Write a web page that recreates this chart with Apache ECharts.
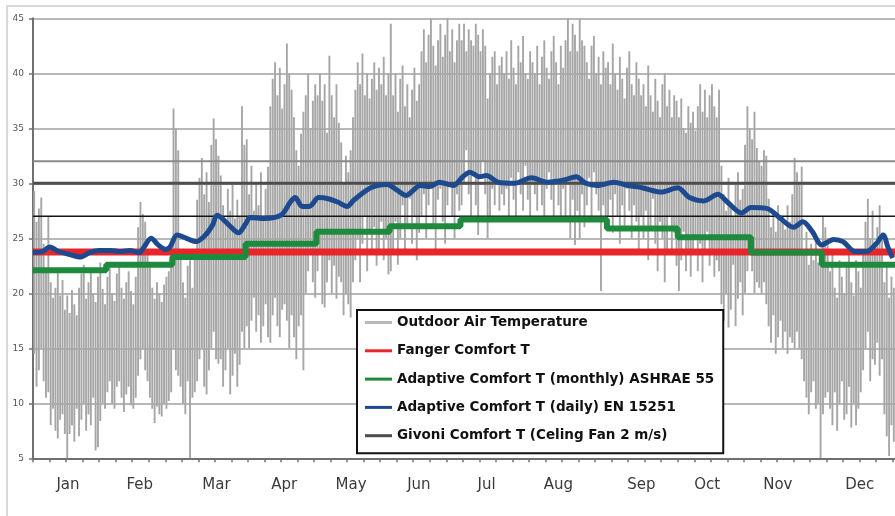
<!DOCTYPE html>
<html>
<head>
<meta charset="utf-8">
<script src="https://cdn.jsdelivr.net/npm/echarts@6/dist/echarts.min.js"></script>
<style>
html,body{margin:0;padding:0;background:#fff;}
#chart{width:895px;height:516px;}
</style>
</head>
<body>
<div id="chart"></div>
<script>
// ---------- DATA ----------
const months = ['Jan','Feb','Mar','Apr','May','Jun','Jul','Aug','Sep','Oct','Nov','Dec'];
const monthLengths = [31,28,31,30,31,30,31,31,30,31,30,31];
const monthLabelDays = [14.8,45.2,77.7,106.4,134.7,163.4,192.1,222.5,257.6,285.5,315.4,350.1];

// Outdoor air temperature: daily max / min (deg C), Jan 1 .. Dec 31
const outdoorHigh = [
 29.3,26.5,27.7,28.7,24.5,22.0,27.0,21.0,19.6,20.5,22.0,19.8,21.2,18.5,19.8,18.2,20.3,19.0,18.0,20.5,21.8,22.6,19.5,21.0,22.2,20.0,19.2,21.5,22.8,20.4,19.0,
 21.5,22.6,20.0,19.3,21.8,22.4,20.5,19.5,21.0,22.0,20.2,19.0,21.5,26.0,28.3,27.2,26.5,24.0,22.5,20.5,19.5,21.0,20.0,19.2,20.8,21.5,22.0,23.5,
 36.8,35.0,33.0,24.0,21.0,19.6,22.5,23.0,20.5,24.0,28.5,30.5,32.3,29.0,31.0,28.3,33.5,35.9,34.0,32.5,30.7,28.0,26.5,29.5,27.5,30.0,26.8,28.5,27.0,37.0,33.5,
 34.0,29.0,31.6,27.5,30.0,28.0,31.0,27.0,29.5,31.5,37.0,39.5,41.0,38.0,40.5,36.8,39.0,42.7,40.0,38.5,36.0,33.0,31.6,34.5,36.5,38.0,40.0,35.0,37.5,39.0,
 38.0,40.0,37.5,39.0,34.6,41.6,38.0,36.0,39.0,35.5,33.7,30.0,32.5,31.0,33.0,36.0,38.5,41.0,39.0,41.8,38.0,40.0,37.7,39.5,41.0,38.5,40.5,39.0,41.5,38.0,40.0,
 44.5,38.0,40.0,36.5,39.5,40.7,37.0,39.0,36.0,38.5,40.5,37.5,39.0,42.0,44.0,41.0,43.5,45.0,42.5,40.7,43.0,44.5,41.5,43.5,45.0,42.0,44.0,41.0,43.0,44.5,
 43.0,44.5,42.0,44.0,43.0,42.5,44.5,43.5,42.0,44.0,42.5,37.7,40.0,41.5,42.0,39.0,40.7,41.5,40.0,42.0,39.5,43.0,40.5,39.0,42.5,41.0,43.4,40.0,39.5,42.0,41.0,
 40.0,42.5,39.0,41.5,43.0,40.5,39.5,42.0,43.4,41.0,39.0,42.5,40.5,43.0,45.0,42.0,44.5,43.5,42.0,45.0,43.0,42.5,41.0,39.5,42.5,43.4,40.0,41.5,39.0,42.0,40.5,
 41.0,39.0,42.7,40.0,38.5,41.5,39.5,37.7,40.5,42.0,39.0,38.0,41.0,39.5,38.0,39.0,37.0,40.7,38.0,36.5,39.5,37.5,36.0,39.0,40.0,37.0,38.5,36.0,38.0,37.5,
 36.0,37.7,35.0,34.6,37.0,35.5,36.5,34.8,37.0,39.0,36.5,38.5,36.0,38.0,39.0,37.0,36.0,38.5,31.6,29.0,27.5,30.5,28.0,27.0,30.0,31.0,28.5,29.5,33.5,37.0,35.0,
 34.0,36.5,33.2,32.0,31.6,33.0,32.5,28.6,26.0,27.5,25.6,28.0,26.5,27.0,25.8,28.0,26.5,29.0,32.3,31.0,30.0,31.5,24.0,25.6,22.6,24.5,23.0,25.0,22.8,24.0,
 27.0,26.0,24.5,22.0,24.0,20.5,19.6,23.0,21.5,20.0,22.5,24.0,21.0,19.8,23.0,22.0,20.5,24.0,26.5,28.6,25.0,27.5,24.5,26.0,28.0,25.5,21.0,22.6,19.6,21.5,20.5
];
const outdoorLow = [
 14.5,11.5,13.0,15.0,12.0,10.5,11.0,8.0,9.5,7.5,6.8,8.5,9.0,7.2,5.0,7.2,8.0,6.5,9.5,7.0,8.5,10.0,7.5,9.0,8.0,10.5,5.7,6.0,8.4,10.0,9.5,
 11.0,12.0,10.0,9.5,11.5,12.0,10.5,9.2,10.8,11.5,9.8,9.5,10.5,12.5,14.0,15.0,13.0,12.0,10.5,9.5,8.2,9.7,9.0,8.8,10.0,9.5,10.2,11.0,
 15.0,13.0,12.5,11.5,10.0,9.0,12.0,5.0,10.5,11.0,12.0,14.0,15.0,11.5,10.8,13.0,15.0,16.5,14.0,13.6,14.0,11.5,13.0,15.0,10.8,12.5,14.5,11.5,13.5,16.5,15.0,
 17.0,15.0,17.5,19.6,16.5,18.0,15.5,17.0,19.0,16.0,15.5,18.0,19.6,17.0,16.0,18.5,19.0,17.5,15.0,18.0,16.0,14.0,17.0,18.0,13.0,20.0,22.0,24.0,21.0,19.6,
 22.0,24.0,19.0,18.7,21.0,23.0,20.0,22.5,19.5,21.5,21.0,18.0,20.0,19.0,17.8,21.0,23.0,25.0,21.0,24.5,27.0,22.0,25.5,23.5,26.0,22.5,24.0,26.5,23.0,25.0,21.7,
 22.0,24.0,26.5,22.6,25.0,28.0,23.5,26.0,28.6,24.5,27.0,23.0,25.5,27.0,29.0,25.0,28.0,30.0,26.0,24.0,28.5,29.5,26.5,24.5,28.0,30.0,27.0,25.0,29.0,27.5,
 28.0,30.0,33.0,29.0,26.5,31.0,28.0,25.3,30.5,32.0,29.0,25.0,27.0,29.5,28.0,30.0,27.5,29.0,28.0,29.5,27.0,30.5,28.5,26.5,31.0,29.0,27.5,31.6,28.5,27.0,30.0,
 29.0,27.5,30.5,28.0,26.5,29.5,31.0,28.5,27.0,30.0,28.0,26.5,29.5,27.0,30.0,25.0,28.5,24.4,27.5,25.0,29.0,26.0,28.0,30.5,27.0,31.0,29.0,27.5,20.2,28.0,26.5,
 27.0,28.5,25.5,29.0,27.0,24.5,28.0,26.0,29.5,27.5,25.0,28.0,26.5,24.0,27.0,25.0,27.5,23.0,26.0,28.6,24.5,22.0,26.5,25.0,21.0,24.0,27.0,23.5,25.5,22.5,
 20.2,23.0,25.6,22.0,24.0,21.5,23.5,25.0,22.0,24.5,21.0,23.5,25.6,22.5,24.0,21.5,23.0,22.0,19.0,17.5,20.0,16.9,18.5,22.6,17.0,19.5,21.0,18.0,20.0,22.0,24.0,
 22.0,20.0,21.0,20.5,20.0,21.0,19.0,17.0,15.5,18.0,14.5,16.0,17.5,15.0,16.5,14.5,16.0,15.5,15.0,16.5,15.0,14.0,12.0,10.5,9.0,11.0,12.0,9.5,10.0,5.0,
 9.0,10.5,11.0,9.5,8.0,11.0,7.5,10.0,12.0,8.5,9.0,11.5,7.8,10.0,8.0,9.5,11.0,13.0,15.0,16.5,12.0,14.0,13.5,15.5,12.5,14.0,9.0,7.0,5.2,8.0,6.5
];

const fangerValue = 23.75;
const adaptiveMonthly = [22.1,22.6,23.3,24.5,25.6,26.1,26.7,26.7,25.9,25.1,23.7,22.6];

const adaptiveDailyDays = [0,4,7,11,16,20,24,28,33,37,41,45,47,50,53,56,58,61,66,69,73,76,78,83,87,90,92,98,105,109,111,114,117,121,125,129,133,136,143,150,154,158,164,168,172,178,182,185,189,192,197,204,211,218,225,230,234,239,246,252,258,266,273,278,284,290,294,300,304,311,316,322,326,330,334,339,343,348,353,357,360,362,364];
const adaptiveDailyValues = [23.7,23.8,24.2,23.8,23.5,23.3,23.7,23.9,23.9,23.8,23.9,23.7,24.2,25.0,24.4,24.0,24.2,25.3,24.9,24.7,25.3,26.2,27.1,26.2,25.5,26.3,26.9,26.8,27.1,28.3,28.7,27.9,27.9,28.7,28.6,28.3,27.9,28.5,29.6,29.9,29.4,28.9,29.8,29.7,30.1,29.8,30.6,31.0,30.6,30.7,30.1,30.0,30.5,30.1,30.3,30.6,30.0,29.8,30.1,29.8,29.6,29.2,29.6,28.7,28.4,29.0,28.3,27.3,27.8,27.7,26.9,26.0,26.5,25.6,24.4,24.9,24.7,23.8,23.8,24.5,25.3,24.2,23.2];

const givoniLevels = [30, 32, 27];

const names = {
  outdoor: 'Outdoor Air Temperature',
  fanger: 'Fanger Comfort T',
  monthly: 'Adaptive Comfort T (monthly) ASHRAE 55',
  daily: 'Adaptive Comfort T (daily) EN 15251',
  givoni: 'Givoni Comfort T (Celing Fan 2 m/s)'
};

// ---------- BUILD ----------
const outdoorData = outdoorHigh.map((h, i) => [i + 0.5, outdoorLow[i], h]);
const dailyData = adaptiveDailyDays.map((d, i) => [d, adaptiveDailyValues[i]]);
const monthlyData = [];
let start = 0;
monthLengths.forEach((len, i) => {
  monthlyData.push([start, adaptiveMonthly[i]]);
  monthlyData.push([start + len, adaptiveMonthly[i]]);
  start += len;
});
const weekTicks = [];
for (let d = 0; d <= 365; d += 7) weekTicks.push(d);

const givoniStyles = [
  {color: '#4d4d4d', width: 3},
  {color: '#8a8a8a', width: 2},
  {color: '#141414', width: 1.5}
];

const chart = echarts.init(document.getElementById('chart'), null, {renderer: 'canvas'});
chart.setOption({
  animation: false,
  backgroundColor: '#ffffff',
  graphic: [{
    type: 'rect', z: -10, silent: true,
    shape: {x: 7, y: 6, width: 1000, height: 600},
    style: {fill: 'none', stroke: '#d9d9d9', lineWidth: 2}
  }],
  grid: {left: 33, top: 18.3, width: 864, height: 440, containLabel: false},
  xAxis: {
    type: 'value', min: 0, max: 365,
    axisLine: {show: true, lineStyle: {color: '#707070', width: 2}},
    axisTick: {show: true, customValues: weekTicks, length: 4, lineStyle: {color: '#707070', width: 1.5}},
    axisLabel: {
      customValues: monthLabelDays,
      formatter: v => months[monthLabelDays.indexOf(v)] || '',
      margin: 19, fontFamily: 'DejaVu Sans', fontSize: 15, color: '#3a3a3a'
    },
    splitLine: {show: false}
  },
  yAxis: {
    type: 'value', min: 5, max: 45, interval: 5,
    axisLine: {show: true, lineStyle: {color: '#707070', width: 2}},
    axisTick: {show: true, length: 4, lineStyle: {color: '#707070', width: 1.5}},
    axisLabel: {margin: 9, fontFamily: 'DejaVu Sans', fontSize: 9, color: '#555'},
    splitLine: {show: true, lineStyle: {color: '#a0a0a0', width: 1.5}}
  },
  legend: {
    orient: 'vertical',
    left: 357, top: 310,
    padding: [4.5, 9, 9.5, 8],
    itemGap: 12.3,
    itemWidth: 27, itemHeight: 3,
    icon: 'rect',
    backgroundColor: '#ffffff',
    borderColor: '#111111', borderWidth: 2,
    selectedMode: false,
    textStyle: {fontFamily: 'DejaVu Sans', fontWeight: 'bold', fontSize: 13.5, color: '#111', lineHeight: 16},
    data: [names.outdoor, names.fanger, names.monthly, names.daily, names.givoni]
  },
  series: [
    {
      name: names.outdoor, type: 'custom', clip: true,
      color: '#b8b8b8', itemStyle: {color: '#b8b8b8'},
      data: outdoorData,
      encode: {x: 0, y: [1, 2]},
      renderItem: function (params, api) {
        const p1 = api.coord([api.value(0), api.value(1)]);
        const p2 = api.coord([api.value(0), api.value(2)]);
        return {type: 'line', shape: {x1: p1[0], y1: p1[1], x2: p2[0], y2: p2[1]},
                style: {stroke: '#a6a6a6', lineWidth: 1.9}};
      }
    },
    ...givoniLevels.map((v, i) => ({
      name: names.givoni, type: 'line', symbol: 'none',
      color: givoniStyles[i].color, itemStyle: {color: givoniStyles[i].color},
      lineStyle: {color: givoniStyles[i].color, width: givoniStyles[i].width},
      data: [[0, v], [365, v]]
    })),
    {
      name: names.fanger, type: 'line', symbol: 'none',
      color: '#e8262a', itemStyle: {color: '#e8262a'},
      lineStyle: {color: '#e8262a', width: 7},
      data: [[0, fangerValue], [365, fangerValue]]
    },
    {
      name: names.monthly, type: 'line', symbol: 'none',
      color: '#1d8a3e', itemStyle: {color: '#1d8a3e'},
      lineStyle: {color: '#1d8a3e', width: 6},
      data: monthlyData
    },
    {
      name: names.daily, type: 'line', symbol: 'none', smooth: 0.3,
      color: '#1d4a8e', itemStyle: {color: '#1d4a8e'},
      lineStyle: {color: '#1d4a8e', width: 5},
      data: dailyData
    }
  ]
});
</script>
</body>
</html>
